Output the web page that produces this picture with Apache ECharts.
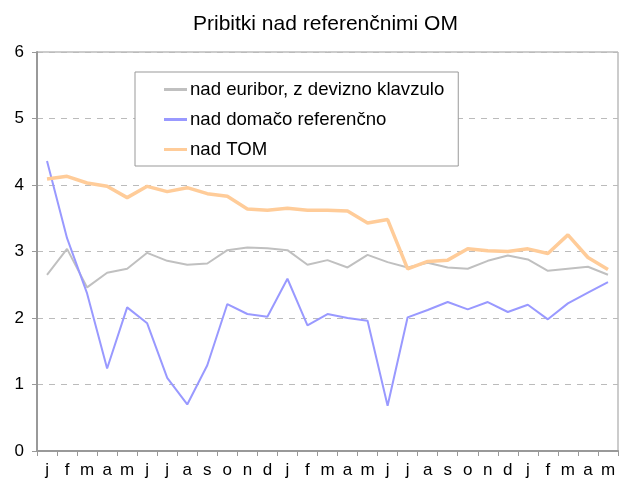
<!DOCTYPE html>
<html>
<head>
<meta charset="utf-8">
<script src="https://cdn.jsdelivr.net/npm/echarts@6/dist/echarts.min.js"></script>
<style>
  html, body { margin: 0; padding: 0; background: #fff; }
  #chart { width: 626px; height: 484px; }
</style>
</head>
<body>
<div id="chart"></div>
<script>
var months = ['j', 'f', 'm', 'a', 'm', 'j', 'j', 'a', 's', 'o', 'n', 'd',
  'j', 'f', 'm', 'a', 'm', 'j', 'j', 'a', 's', 'o', 'n', 'd',
  'j', 'f', 'm', 'a', 'm'];
// nad euribor, z devizno klavzulo
var euribor = [2.65, 3.04, 2.46, 2.68, 2.74, 2.98, 2.86, 2.80, 2.82, 3.02, 3.06, 3.05,
  3.02, 2.80, 2.87, 2.76, 2.95, 2.84, 2.76, 2.83, 2.76, 2.74, 2.86, 2.94,
  2.88, 2.71, 2.74, 2.77, 2.65];
// nad domačo referenčno
var domaca = [4.36, 3.20, 2.37, 1.24, 2.16, 1.92, 1.10, 0.70, 1.29, 2.21, 2.06, 2.02,
  2.59, 1.89, 2.06, 2.00, 1.96, 0.68, 2.01, 2.12, 2.24, 2.13, 2.24, 2.09,
  2.20, 1.98, 2.22, 2.38, 2.54];
// nad TOM
var tom = [4.09, 4.13, 4.03, 3.98, 3.81, 3.98, 3.90, 3.96, 3.87, 3.83, 3.64, 3.62,
  3.65, 3.62, 3.62, 3.61, 3.43, 3.48, 2.74, 2.85, 2.87, 3.04, 3.01, 3.00,
  3.04, 2.97, 3.25, 2.91, 2.73];
var seriesNames = ['nad euribor, z devizno klavzulo', 'nad domačo referenčno', 'nad TOM'];
var colors = ['#c0c0c0', '#9999ff', '#ffcc99'];

var font = 'Liberation Sans, Arial, sans-serif';
var chart = echarts.init(document.getElementById('chart'));

var option = {
  animation: false,
  backgroundColor: '#fff',
  textStyle: { fontFamily: font, color: '#000' },
  title: {
    text: 'Pribitki nad referenčnimi OM',
    left: 188,
    top: 9,
    textStyle: { fontFamily: font, fontSize: 21, fontWeight: 'normal', color: '#000' }
  },
  legend: {
    orient: 'vertical',
    left: 135,
    top: 72,
    padding: [8, 14, 7, 29],
    itemGap: 11,
    itemWidth: 23,
    itemHeight: 3,
    icon: 'rect',
    borderColor: '#999',
    borderWidth: 1,
    backgroundColor: '#fff',
    textStyle: { fontFamily: font, fontSize: 18.6, color: '#000', padding: [0, 0, 0, -2] },
    data: [
      { name: seriesNames[0], itemStyle: { color: colors[0] } },
      { name: seriesNames[1], itemStyle: { color: colors[1] } },
      { name: seriesNames[2], itemStyle: { color: colors[2] } }
    ]
  },
  grid: {
    left: 37, right: 8, top: 52, bottom: 33,
    show: true,
    borderColor: '#999',
    borderWidth: 1
  },
  xAxis: {
    type: 'category',
    data: months,
    boundaryGap: true,
    axisLine: { lineStyle: { color: '#999', width: 2 } },
    axisTick: { show: true, interval: 0, length: 5, lineStyle: { color: '#999' } },
    axisLabel: { interval: 0, margin: 11, fontSize: 17, color: '#000', fontFamily: font },
    splitLine: { show: false }
  },
  yAxis: {
    type: 'value',
    min: 0,
    max: 6,
    interval: 1,
    axisLine: { show: true, lineStyle: { color: '#999', width: 2 } },
    axisTick: { show: true, length: 5, lineStyle: { color: '#999' } },
    axisLabel: { margin: 13, fontSize: 17, color: '#000', fontFamily: font },
    splitLine: { show: true, lineStyle: { color: '#bbb', type: [6, 6], width: 1 } }
  },
  series: [
    {
      name: seriesNames[0],
      type: 'line',
      data: euribor,
      symbol: 'none',
      color: colors[0],
      lineStyle: { color: colors[0], width: 2 }
    },
    {
      name: seriesNames[1],
      type: 'line',
      data: domaca,
      symbol: 'none',
      color: colors[1],
      lineStyle: { color: colors[1], width: 2 }
    },
    {
      name: seriesNames[2],
      type: 'line',
      data: tom,
      symbol: 'none',
      color: colors[2],
      lineStyle: { color: colors[2], width: 3.5 }
    }
  ]
};

chart.setOption(option);
</script>
</body>
</html>
